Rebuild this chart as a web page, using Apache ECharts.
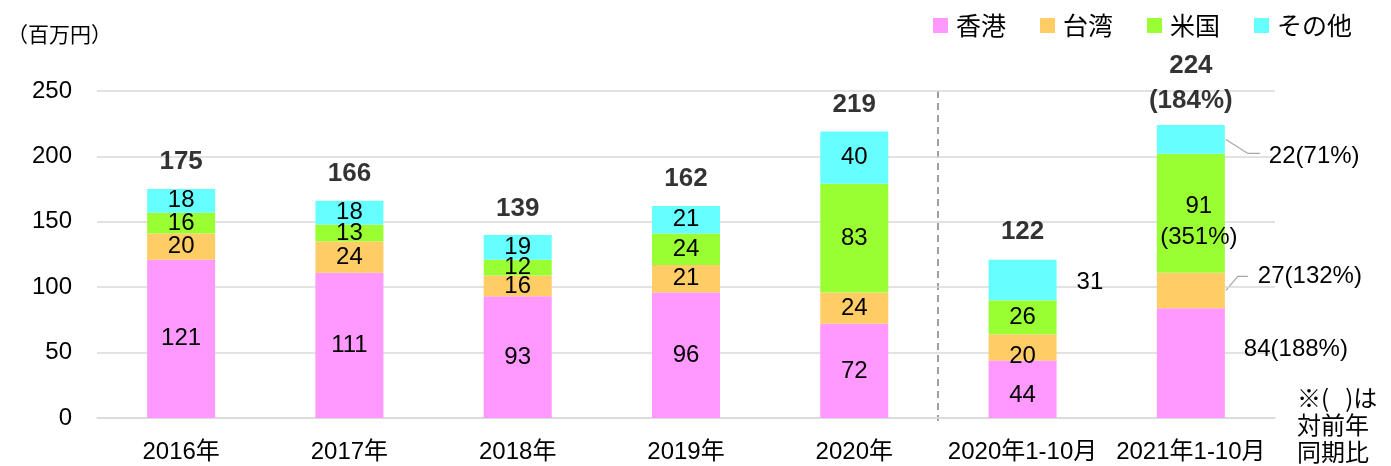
<!DOCTYPE html>
<html>
<head>
<meta charset="utf-8">
<script src="https://cdn.jsdelivr.net/npm/echarts@6/dist/echarts.min.js"></script>
<style>
  html, body { margin: 0; padding: 0; background: #fff; }
  #chart { width: 1391px; height: 466px; }
</style>
</head>
<body>
<div id="chart"></div>
<script>
// Categories and stacked values (百万円)
const categories = ['2016年', '2017年', '2018年', '2019年', '2020年', '2020年1-10月', '2021年1-10月'];
const seriesNames = ['香港', '台湾', '米国', 'その他'];
const hongKong = [121, 111, 93, 96, 72, 44, 84];
const taiwan   = [20, 24, 16, 21, 24, 20, 27];
const usa      = [16, 13, 12, 24, 83, 26, 91];
const others   = [18, 18, 19, 21, 40, 31, 22];
const totals   = [175, 166, 139, 162, 219, 122, 224];
// Year-on-year ratios for the latest period (same order as seriesNames), and for the total
const yoyRatios = ['188%', '132%', '351%', '71%'];
const totalYoy = '184%';
const yTicks = { min: 0, max: 250, interval: 50 };

const colors = ['#FF99FF', '#FFCC66', '#99FF33', '#66FFFF'];
const FONT = "'Liberation Sans', 'Noto Sans CJK JP', sans-serif";
const JP_FONT = "'Noto Sans CJK JP', sans-serif";
const FS = 24;
const BAR_WIDTH = 68;
const LAST = categories.length - 1;
const SPLIT = 5; // first index of the Jan-Oct comparison block

const chart = echarts.init(document.getElementById('chart'), null, { renderer: 'canvas' });

// Per-item label tweaks for the two Jan-Oct columns
function buildData(values, sIdx) {
  return values.map((v, i) => {
    const item = { value: v };
    if (i === SPLIT && sIdx === 0) item.label = { offset: [0, 6] };
    if (i === SPLIT && sIdx === 1) item.label = { offset: [0, 9] };
    if (i === SPLIT && sIdx === 3) item.label = { position: 'right', distance: 20, offset: [0, 2] };
    if (i === LAST) {
      const txt = v + '(' + yoyRatios[sIdx] + ')';
      if (sIdx === 0) item.label = { position: 'right', distance: 19, offset: [0, -14], formatter: txt };
      if (sIdx === 1) item.label = { position: 'right', distance: 33, offset: [0, -14], formatter: txt };
      if (sIdx === 2) item.label = { formatter: v + '\n(' + yoyRatios[sIdx] + ')', lineHeight: 31, offset: [8, 9] };
      if (sIdx === 3) item.label = { position: 'right', distance: 44, offset: [0, 17], formatter: txt };
    }
    return item;
  });
}

const valueSets = [hongKong, taiwan, usa, others];
const barSeries = valueSets.map((vals, sIdx) => ({
  name: seriesNames[sIdx],
  type: 'bar',
  stack: 'total',
  barWidth: BAR_WIDTH,
  itemStyle: { color: colors[sIdx] },
  label: {
    show: true,
    position: 'inside',
    color: '#000',
    fontFamily: FONT,
    fontSize: FS
  },
  data: buildData(vals, sIdx)
}));

// Totals shown above each column
const totalSeries = {
  name: 'total',
  type: 'scatter',
  symbolSize: 0,
  silent: true,
  label: {
    show: true,
    position: 'top',
    distance: 14,
    color: '#000',
    fontFamily: FONT,
    fontSize: 26,
    fontWeight: 'bold',
    formatter: p => String(totals[p.dataIndex])
  },
  data: totals.map((t, i) => i === LAST
    ? { value: t, label: { formatter: t + '\n(' + totalYoy + ')', lineHeight: 35, distance: 7 } }
    : { value: t })
};

const option = {
  animation: false,
  backgroundColor: '#fff',
  color: colors,
  grid: { left: 97, right: 116, top: 91, bottom: 48 },
  legend: {
    data: seriesNames,
    right: 34,
    top: 8,
    icon: 'rect',
    itemWidth: 15,
    itemHeight: 15,
    itemGap: 34,
    textStyle: { fontFamily: JP_FONT, fontSize: 25, color: '#000', padding: [0, 0, 0, 3] }
  },
  xAxis: {
    type: 'category',
    data: categories,
    axisTick: { show: false },
    axisLine: { lineStyle: { color: '#d9d9d9', width: 1.5 } },
    axisLabel: { interval: 0, margin: 22, color: '#000', fontFamily: FONT, fontSize: FS }
  },
  yAxis: {
    type: 'value',
    min: yTicks.min,
    max: yTicks.max,
    interval: yTicks.interval,
    axisLine: { show: false },
    axisTick: { show: false },
    splitLine: { lineStyle: { color: '#d9d9d9', width: 1.5 } },
    axisLabel: { margin: 25, color: '#000', fontFamily: FONT, fontSize: FS }
  },
  series: [...barSeries, totalSeries],
  graphic: [
    {
      id: 'unit', type: 'text', left: 7, top: 24,
      style: { text: '（百万円）', fontFamily: JP_FONT, fontSize: 21, fill: '#000' }
    },
    {
      id: 'note', type: 'text', left: 1297, top: 384,
      style: { text: '※(   )は\n対前年\n同期比', fontFamily: JP_FONT, fontSize: 24, lineHeight: 27, fill: '#000' }
    }
  ]
};

chart.setOption(option);

// Divider and leader lines, positioned from the axes
const px = (i) => chart.convertToPixel({ xAxisIndex: 0 }, i);
const py = (v) => chart.convertToPixel({ yAxisIndex: 0 }, v);

const dividerX = Math.round((px(SPLIT - 1) + px(SPLIT)) / 2);
const barRight = px(LAST) + BAR_WIDTH / 2;
const twMid = py(hongKong[LAST] + taiwan[LAST] / 2);
const otMid = py(hongKong[LAST] + taiwan[LAST] + usa[LAST] + others[LAST] / 2);

chart.setOption({
  graphic: [
    {
      id: 'divider', type: 'line', silent: true,
      shape: { x1: dividerX, y1: py(yTicks.max), x2: dividerX, y2: py(0) + 3 },
      style: { stroke: '#808080', lineWidth: 1.5, lineDash: [7, 5] }
    },
    {
      id: 'leaderTw', type: 'polyline', silent: true,
      shape: { points: [[barRight + 1, twMid], [barRight + 13, twMid - 14], [barRight + 23, twMid - 14]] },
      style: { stroke: '#a6a6a6', lineWidth: 1.2, fill: null }
    },
    {
      id: 'leaderOt', type: 'polyline', silent: true,
      shape: { points: [[barRight + 1, otMid], [barRight + 23, otMid + 14], [barRight + 35, otMid + 14]] },
      style: { stroke: '#a6a6a6', lineWidth: 1.2, fill: null }
    }
  ]
});
</script>
</body>
</html>
